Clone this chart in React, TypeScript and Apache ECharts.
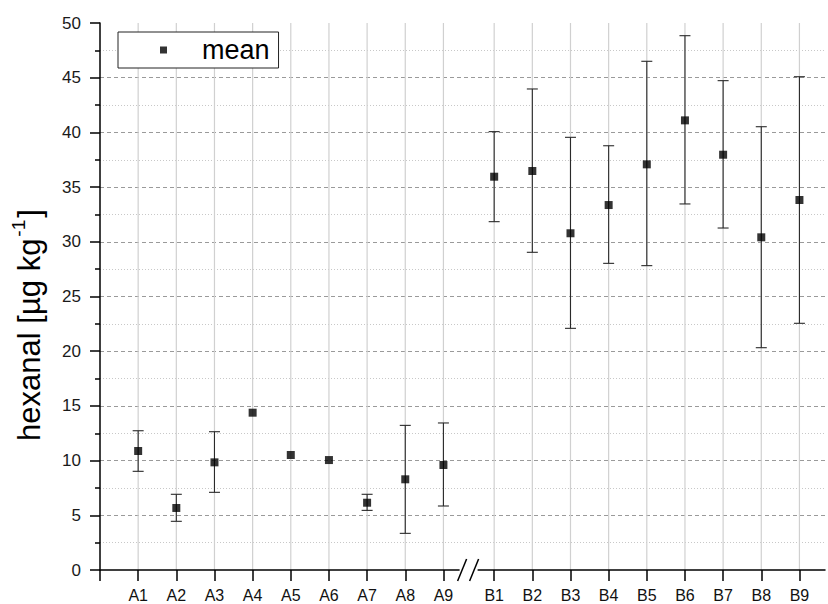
import React, { useEffect, useRef } from "react";
import * as echarts from "echarts";

const catsA = ["A1", "A2", "A3", "A4", "A5", "A6", "A7", "A8", "A9"];
const catsB = ["B1", "B2", "B3", "B4", "B5", "B6", "B7", "B8", "B9"];
const means = [10.88, 5.67, 9.84, 14.38, 10.51, 10.05, 6.15, 8.29, 9.6, 35.95, 36.47, 30.78, 33.36, 37.08, 41.1, 37.96, 30.41, 33.82];
const errLow: (number | null)[] = [9.02, 4.45, 7.1, null, null, null, 5.45, 3.35, 5.85, 31.84, 29.04, 22.09, 28.03, 27.82, 33.46, 31.26, 20.32, 22.55];
const errHigh: (number | null)[] = [12.73, 6.92, 12.64, null, null, null, 6.92, 13.22, 13.44, 40.07, 43.97, 39.55, 38.78, 46.5, 48.84, 44.73, 40.52, 45.09];
const yTicks = [0, 5, 10, 15, 20, 25, 30, 35, 40, 45, 50];
const breakAt = 9.66;
const bOffset = 9.33;

const FONT = "'Liberation Sans', Arial, Helvetica, sans-serif";

export default function App() {
  const ref = useRef<HTMLDivElement>(null);
  useEffect(() => {
    document.body.style.margin = "0";
    if (!ref.current) return;
    const chart = echarts.init(ref.current, null, { renderer: "svg" });
    const cats = [...catsA, ...catsB];
    const xs = [...catsA.map((_, i) => i + 1), ...catsB.map((_, i) => bOffset + i + 1)];
    const nameAt = (v: number) => {
      const idx = xs.findIndex((x) => Math.abs(x - v) < 0.01);
      return idx >= 0 ? cats[idx] : "";
    };
    const meanData = xs.map((x, i) => [x, means[i]]);
    const errData = xs
      .map((x, i) => [x, errLow[i], errHigh[i]])
      .filter((d) => d[1] != null && d[2] != null);
    const yMax = yTicks[yTicks.length - 1];

    chart.setOption({
      animation: false,
      textStyle: { fontFamily: FONT },
      grid: { left: 100, right: 3, top: 23, bottom: 34 },
      legend: {
        left: 118,
        top: 32,
        orient: "horizontal",
        data: [{ name: "mean", icon: "rect" }],
        itemWidth: 7,
        itemHeight: 7,
        borderColor: "#222",
        borderWidth: 1,
        borderRadius: 0,
        backgroundColor: "#fff",
        padding: [4, 9, 4, 42],
        textStyle: { fontSize: 27, color: "#000", fontFamily: FONT, padding: [0, 0, 0, 30], lineHeight: 28 },
        selectedMode: false,
      },
      graphic: [
        {
          type: "text",
          x: 27,
          y: 325,
          rotation: Math.PI / 2,
          style: {
            text: "{a|hexanal [µg kg}{b|-1}{a|]}",
            align: "center",
            verticalAlign: "middle",
            fill: "#000",
            rich: {
              a: { fontSize: 31, fontFamily: FONT, lineHeight: 36, verticalAlign: "bottom" },
              b: { fontSize: 19, fontFamily: FONT, lineHeight: 36, verticalAlign: "top", padding: [0, 2, 0, 2] },
            },
          },
        },
      ],
      xAxis: {
        type: "value",
        min: 0,
        max: 19,
        axisLine: { show: true, lineStyle: { color: "#000", width: 1.5 } },
        axisTick: { show: true, length: 11, customValues: [0, ...xs], lineStyle: { color: "#000", width: 1.5 } },
        axisLabel: {
          show: true,
          customValues: xs,
          formatter: (v: number) => nameAt(v),
          fontSize: 16,
          color: "#111",
          margin: 17,
          fontFamily: FONT,
        },
        splitLine: { show: false },
      },
      yAxis: {
        type: "value",
        min: 0,
        max: yMax,
        interval: 5,
        axisLine: { show: true, lineStyle: { color: "#000", width: 1.5 } },
        axisTick: { show: true, length: 10, lineStyle: { color: "#000", width: 1.5 } },
        minorTick: { show: true, splitNumber: 2, length: 5, lineStyle: { color: "#000", width: 1.5 } },
        axisLabel: { fontSize: 17, color: "#1a1a1a", margin: 19, fontFamily: FONT },
        splitLine: { show: true, showMaxLine: false, showMinLine: false, lineStyle: { color: "#9a9a9a", type: [4, 3], width: 1 } },
        minorSplitLine: { show: true, lineStyle: { color: "#c8c8c8", type: [1, 2], width: 1 } },
      },
      series: [
        {
          type: "custom",
          name: "vgrid",
          silent: true,
          z: 0,
          data: xs.map((x) => [x]),
          encode: { x: 0 },
          renderItem: (params: any, api: any) => {
            const x = api.value(0);
            const p0 = api.coord([x, 0]);
            const p1 = api.coord([x, yMax]);
            return {
              type: "line",
              shape: { x1: p0[0], y1: p0[1], x2: p1[0], y2: p1[1] },
              style: { stroke: "#d0d0d0", lineWidth: 1.2 },
            };
          },
        },
        {
          type: "custom",
          name: "error",
          z: 2,
          data: errData,
          encode: { x: 0, y: [1, 2] },
          renderItem: (params: any, api: any) => {
            const x = api.value(0);
            const lo = api.coord([x, api.value(1)]);
            const hi = api.coord([x, api.value(2)]);
            const hw = 5.5;
            const st = { stroke: "#2a2a2a", lineWidth: 1.1 };
            return {
              type: "group",
              children: [
                { type: "line", shape: { x1: lo[0], y1: lo[1], x2: hi[0], y2: hi[1] }, style: st },
                { type: "line", shape: { x1: lo[0] - hw, y1: lo[1], x2: lo[0] + hw, y2: lo[1] }, style: st },
                { type: "line", shape: { x1: hi[0] - hw, y1: hi[1], x2: hi[0] + hw, y2: hi[1] }, style: st },
              ],
            };
          },
        },
        {
          type: "custom",
          name: "break",
          z: 5,
          silent: true,
          clip: false,
          data: [[breakAt, 0]],
          encode: { x: 0, y: 1 },
          renderItem: (params: any, api: any) => {
            const p = api.coord([api.value(0), api.value(1)]);
            const st = { stroke: "#000", lineWidth: 1.5 };
            return {
              type: "group",
              children: [
                { type: "rect", shape: { x: p[0] - 9, y: p[1] - 2, width: 18, height: 4 }, style: { fill: "#fff" } },
                { type: "line", shape: { x1: p[0] - 11, y1: p[1] + 11, x2: p[0] - 2, y2: p[1] - 11 }, style: st },
                { type: "line", shape: { x1: p[0] + 1, y1: p[1] + 11, x2: p[0] + 10, y2: p[1] - 11 }, style: st },
              ],
            };
          },
        },
        {
          type: "scatter",
          name: "mean",
          z: 3,
          symbol: "rect",
          symbolSize: 8,
          itemStyle: { color: "#000" },
          data: meanData,
        },
      ],
    });
    return () => chart.dispose();
  }, []);
  return <div ref={ref} style={{ width: 828, height: 604 }} />;
}
